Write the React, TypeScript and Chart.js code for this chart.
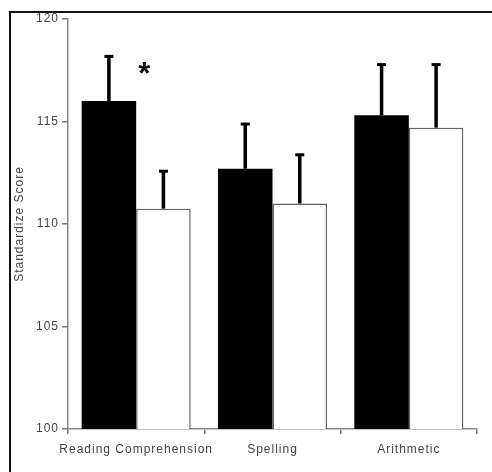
import React, { useEffect, useRef } from "react";
import { Chart, registerables } from "chart.js";

Chart.register(...registerables);

const categories = ["Reading Comprehension", "Spelling", "Arithmetic"];
const blackValues = [116.0, 112.7, 115.3];
const blackErrors = [2.2, 2.2, 2.5];
const whiteValues = [110.75, 111.0, 114.7];
const whiteErrors = [1.85, 2.4, 3.1];
const yTicks = [100, 105, 110, 115, 120];
const yTitle = "Standardize Score";
const sigLabel = "*";
const sigCategory = 0;
const sigValue = 117.6;

const FONT = "'Liberation Sans', Arial, Helvetica, sans-serif";

const errorBarPlugin = {
  id: "errorBars",
  beforeDraw(chart: any) {
    chart.ctx.letterSpacing = "1px";
  },
  afterDatasetsDraw(chart: any) {
    const ctx = chart.ctx;
    const yScale = chart.scales.y;
    const errs = [blackErrors, whiteErrors];
    const vals = [blackValues, whiteValues];
    ctx.save();
    ctx.fillStyle = "#000";
    chart.data.datasets.forEach((_: any, di: number) => {
      const meta = chart.getDatasetMeta(di);
      meta.data.forEach((bar: any, i: number) => {
        const yTop = yScale.getPixelForValue(vals[di][i] + errs[di][i]);
        const yBar = bar.y;
        const lw = 3.5;
        ctx.fillRect(bar.x - lw / 2, yTop, lw, yBar - yTop);
        ctx.fillRect(bar.x - 4.5, yTop - 1, 9, 3);
      });
    });
    // significance marker
    const bar = chart.getDatasetMeta(0).data[sigCategory];
    const x = bar.x + bar.width / 2 + 8;
    const y = yScale.getPixelForValue(sigValue);
    ctx.letterSpacing = "0px";
    ctx.font = `bold 31px ${FONT}`;
    ctx.textAlign = "center";
    ctx.textBaseline = "alphabetic";
    const m = ctx.measureText(sigLabel);
    const asc = m.actualBoundingBoxAscent;
    const desc = m.actualBoundingBoxDescent;
    ctx.fillStyle = "#111";
    ctx.fillText(sigLabel, x, y + (asc - desc) / 2);
    ctx.restore();
  },
};

export default function App() {
  const ref = useRef<HTMLCanvasElement>(null);
  useEffect(() => {
    if (!ref.current) return;
    Chart.defaults.font.family = FONT;
    const chart = new Chart(ref.current, {
      type: "bar",
      data: {
        labels: categories,
        datasets: [
          {
            label: "Group A",
            data: blackValues,
            backgroundColor: "#000",
            borderWidth: 0,
          },
          {
            label: "Group B",
            data: whiteValues,
            backgroundColor: "#fff",
            borderColor: "#666",
            borderWidth: 1.5,
          },
        ],
      },
      options: {
        responsive: false,
        animation: false,
        events: [],
        layout: { padding: { top: 19, right: 15, left: 0, bottom: 0 } },
        datasets: {
          bar: { categoryPercentage: 0.8, barPercentage: 1.0 },
        },
        plugins: {
          legend: { display: false },
          tooltip: { enabled: false },
          title: { display: false },
        },
        scales: {
          x: {
            offset: true,
            grid: {
              offset: true,
              drawOnChartArea: false,
              drawTicks: true,
              tickLength: 5,
              color: "#777",
              lineWidth: 1.5,
            },
            border: { color: "#888", width: 1.5 },
            ticks: {
              color: "#444",
              font: { size: 12, family: FONT },
              padding: 8,
              maxRotation: 0,
            },
            afterFit: (s: any) => {
              s.height = 43;
            },
          },
          y: {
            min: 100,
            max: 120,
            afterBuildTicks: (s: any) => {
              s.ticks = yTicks.map((v) => ({ value: v }));
            },
            grid: {
              drawOnChartArea: false,
              drawTicks: true,
              tickLength: 6,
              color: "#777",
              lineWidth: 1.5,
            },
            border: { color: "#888", width: 1.5 },
            ticks: {
              color: "#444",
              font: { size: 12, family: FONT },
              padding: 3,
            },
            title: {
              display: true,
              text: yTitle,
              color: "#444",
              font: { size: 12, family: FONT },
              padding: { top: 12, bottom: 0 },
            },
            afterFit: (s: any) => {
              s.width = 68;
            },
          },
        },
      },
      plugins: [errorBarPlugin],
    });
    return () => chart.destroy();
  }, []);

  return (
    <div
      style={{
        position: "fixed",
        left: 0,
        top: 0,
        width: 492,
        height: 472,
        background: "#fff",
        overflow: "hidden",
      }}
    >
      <div
        style={{
          position: "absolute",
          left: 9,
          top: 11,
          width: 600,
          height: 600,
          borderLeft: "2px solid #111",
          borderTop: "2px solid #111",
        }}
      />
      <canvas
        ref={ref}
        width={492}
        height={472}
        style={{ position: "absolute", left: 0, top: 0, width: 492, height: 472 }}
      />
    </div>
  );
}
